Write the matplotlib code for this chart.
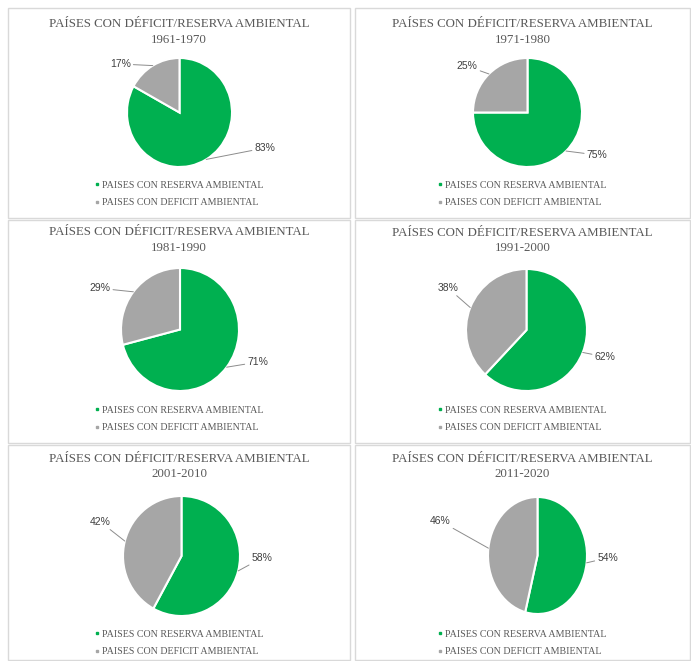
import numpy as np
import matplotlib
matplotlib.use("Agg")
import matplotlib.pyplot as plt
from matplotlib.patches import Rectangle
from matplotlib.lines import Line2D

# Data
decades = ["1961-1970", "1971-1980", "1981-1990", "1991-2000", "2001-2010", "2011-2020"]
reserva = [83, 75, 71, 62, 58, 54]
deficit = [17, 25, 29, 38, 42, 46]
series_names = ["PAISES CON RESERVA AMBIENTAL", "PAISES CON DEFICIT AMBIENTAL"]
title_text = "PAÍSES CON DÉFICIT/RESERVA AMBIENTAL"

GREEN = "#00B050"
GRAY = "#A6A6A6"
TXT = "#595959"

W, H = 691, 661
fig = plt.figure(figsize=(W / 100, H / 100), dpi=100)
fig.patch.set_facecolor("white")

# layout in pixels: panel frame, pie box, label offsets (in pie radii)
panels = [(8, 8, 350, 218), (355, 8, 690, 218),
          (8, 220, 350, 443), (355, 220, 690, 443),
          (8, 445, 350, 660), (355, 445, 690, 660)]
pie_boxes = [(127, 58, 232, 167), (473, 58, 582, 167),
             (121, 268, 239, 391), (466, 269, 587, 391),
             (123, 496, 240, 616), (488, 497, 587, 614)]
label_pos = [[(1.63, -0.65), (-1.13, 0.89)],
             [(1.28, -0.78), (-1.11, 0.85)],
             [(1.32, -0.53), (-1.36, 0.67)],
             [(1.30, -0.44), (-1.30, 0.69)],
             [(1.38, -0.03), (-1.39, 0.57)],
             [(1.42, -0.04), (-1.97, 0.59)]]
title_y = [(24, 40), (24, 40), (232, 248), (233, 248), (459, 474), (459, 474)]
legend_y = [194, 194, 419, 419, 643, 643]


def fx(px):
    return px / W


def fy(py):
    return 1 - py / H


for i in range(6):
    x0, y0, x1, y1 = panels[i]
    fig.add_artist(Rectangle((fx(x0), fy(y1)), fx(x1 - x0), (y1 - y0) / H,
                             transform=fig.transFigure, fill=False,
                             edgecolor="#d9d9d9", lw=1))
    cx = (x0 + x1) / 2
    fig.text(fx(cx), fy(title_y[i][0]), title_text, ha="center", va="center",
             family="Liberation Serif", fontsize=9.3, color=TXT)
    fig.text(fx(cx), fy(title_y[i][1]), decades[i], ha="center", va="center",
             family="Liberation Serif", fontsize=9.3, color=TXT)

    px0, py0, px1, py1 = pie_boxes[i]
    ax = fig.add_axes([fx(px0), fy(py1), fx(px1 - px0), (py1 - py0) / H])
    vals = [reserva[i], deficit[i]]
    ax.pie(vals, colors=[GREEN, GRAY], startangle=90, counterclock=False,
           wedgeprops=dict(edgecolor="white", linewidth=1.5))
    ax.set_aspect("auto")
    ax.set_xlim(-1, 1)
    ax.set_ylim(-1, 1)
    ax.axis("off")

    total = sum(vals)
    cum = 0
    for j, v in enumerate(vals):
        mid = np.deg2rad(90 - 360 * (cum + v / 2) / total)
        cum += v
        ax.annotate(f"{v}%", xy=(np.cos(mid), np.sin(mid)), xytext=label_pos[i][j],
                    ha="center", va="center", fontsize=7.5, color="#404040",
                    family="Liberation Sans", annotation_clip=False,
                    arrowprops=dict(arrowstyle="-", color="#8c8c8c", lw=0.7,
                                    shrinkA=0, shrinkB=0))

    handles = [Line2D([], [], marker="s", linestyle="none", markersize=2.0,
                      color=c) for c in (GREEN, GRAY)]
    fig.legend(handles, series_names, loc="center",
               bbox_to_anchor=(fx(cx), fy(legend_y[i])), frameon=False,
               prop=dict(family="Liberation Serif", size=7.2),
               labelcolor=TXT, handlelength=0.4, handletextpad=0.3,
               labelspacing=0.85, borderpad=0)

fig.savefig("out.png", dpi=100, facecolor="white")
